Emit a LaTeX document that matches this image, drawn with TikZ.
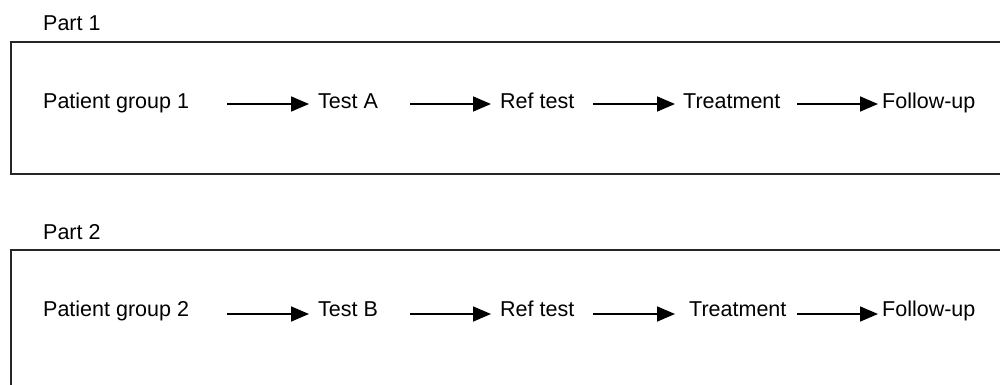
\documentclass[tikz,border=0pt]{standalone}
\usepackage{fontspec}
\setmainfont{Liberation Sans}
\usetikzlibrary{arrows.meta}
\begin{document}
\begin{tikzpicture}[x=1pt,y=-1pt,
  lbl/.style={anchor=west,inner sep=0pt,text height=16pt,text depth=4pt,
    font=\fontsize{21.5}{26}\selectfont},
  part/.style={anchor=base west,inner sep=0pt,font=\fontsize{21.5}{26}\selectfont},
  frame/.style={draw=black!85,line width=2pt},
  arr/.style={line width=1.6pt,-{Triangle[length=18pt,width=15pt]}}]
\useasboundingbox (0,0) rectangle (1000,385);
\clip (0,0) rectangle (1000,385);
% frames
\draw[frame] (1010,42) -- (11,42) -- (11,174) -- (1010,174);
\draw[frame] (1010,250) -- (11,250) -- (11,395);
% part labels
\node[part] (part1) at (43,31) {Part 1};
\node[part] (part2) at (43,239) {Part 2};
% row 1
\node[lbl] (p1)  at (43,103) {Patient group 1};
\node[lbl] (t1)  at (318,103) {Test A};
\node[lbl] (r1)  at (500,103) {Ref test};
\node[lbl] (tr1) at (683,103) {Treatment};
\node[lbl] (f1)  at (882,103) {Follow-up};
\coordinate (s11) at (227,104);
\coordinate (s12) at (410,104);
\coordinate (s13) at (593,104);
\coordinate (s14) at (797,104);
\coordinate (e11) at (309,104);
\coordinate (e12) at (491,104);
\coordinate (e13) at (675,104);
\coordinate (e14) at (878,104);
\draw[arr] (s11) -- (e11);
\draw[arr] (s12) -- (e12);
\draw[arr] (s13) -- (e13);
\draw[arr] (s14) -- (e14);
% row 2
\node[lbl] (p2)  at (43,310) {Patient group 2};
\node[lbl] (t2)  at (318,310) {Test B};
\node[lbl] (r2)  at (500,310) {Ref test};
\node[lbl] (tr2) at (689,310) {Treatment};
\node[lbl] (f2)  at (882,310) {Follow-up};
\coordinate (s21) at (227,314);
\coordinate (s22) at (410,314);
\coordinate (s23) at (593,314);
\coordinate (s24) at (797,314);
\coordinate (e21) at (309,314);
\coordinate (e22) at (491,314);
\coordinate (e23) at (675,314);
\coordinate (e24) at (878,314);
\draw[arr] (s21) -- (e21);
\draw[arr] (s22) -- (e22);
\draw[arr] (s23) -- (e23);
\draw[arr] (s24) -- (e24);
\end{tikzpicture}
\end{document}
